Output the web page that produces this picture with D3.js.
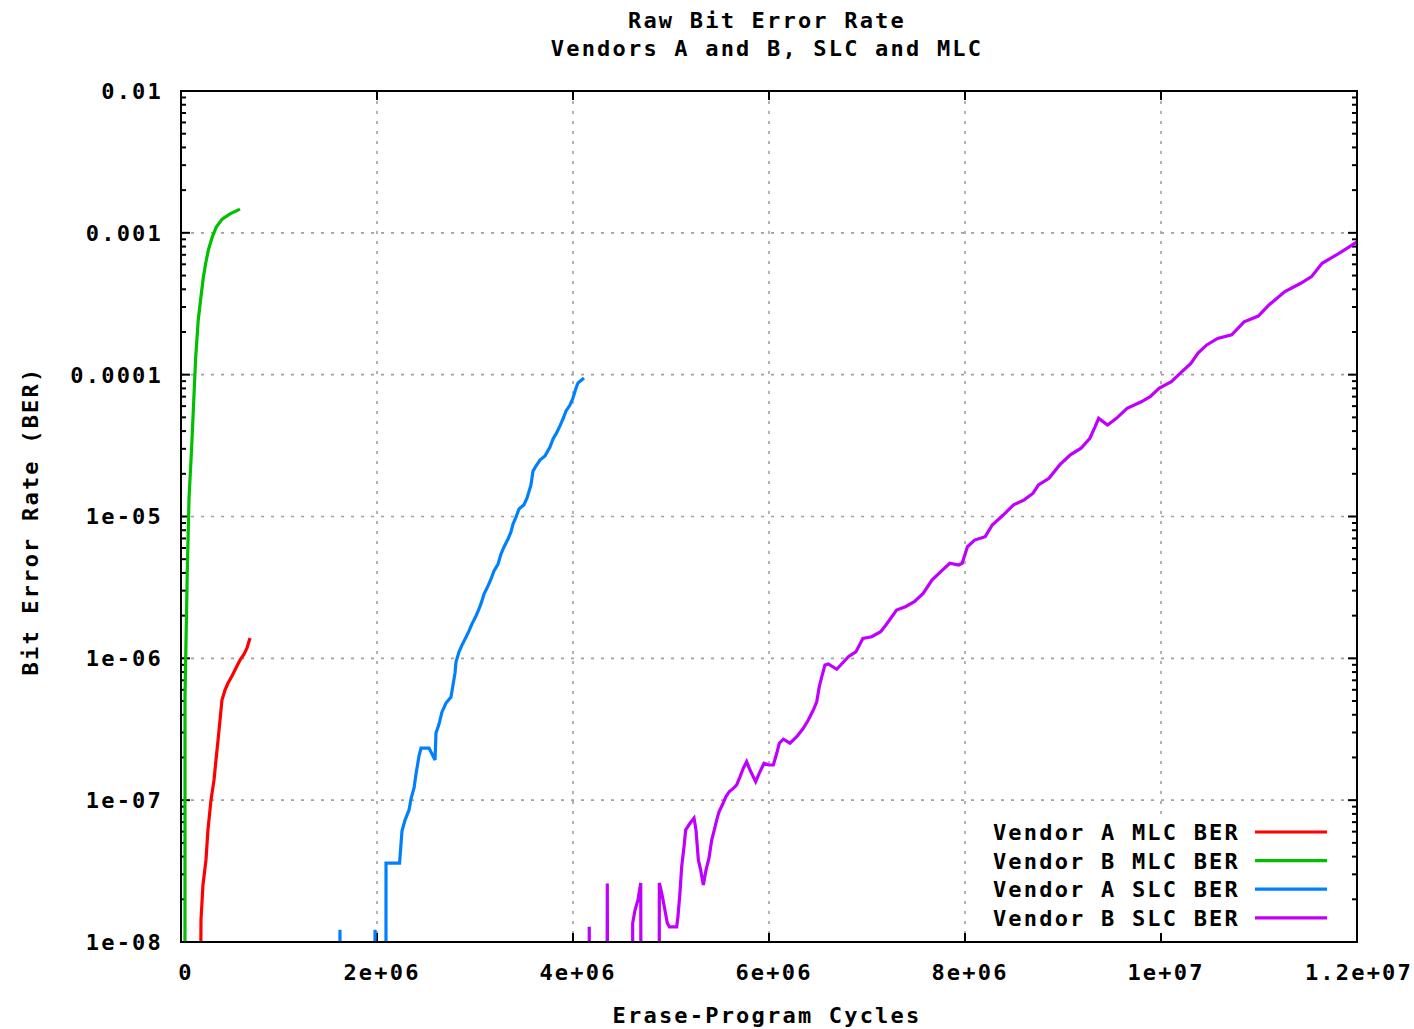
<!DOCTYPE html>
<html>
<head>
<meta charset="utf-8">
<script src="https://cdn.jsdelivr.net/npm/d3@7"></script>
<style>
  html, body { margin: 0; padding: 0; background: #fff; overflow: hidden; }
  text { font-family: "DejaVu Sans Mono", monospace; font-weight: bold; fill: #000; font-size: 22px; letter-spacing: 2.2px; }
</style>
</head>
<body>
<div id="chart"></div>
<script>
// values: [erase-program cycles, bit error rate]
// very small values stand for "no errors" and run off the bottom of the plot
const vendorAMlc = [
  [184000, 1e-10], [204000, 1.43e-8], [224000, 2.52e-8], [255000, 3.79e-8], [275000, 6.17e-8],
  [306000, 1.0e-7], [337000, 1.39e-7], [357000, 1.92e-7], [378000, 2.65e-7], [398000, 3.67e-7],
  [418000, 5.08e-7], [449000, 5.98e-7], [480000, 6.7e-7], [520000, 7.5e-7], [561000, 8.55e-7],
  [602000, 9.73e-7], [643000, 1.07e-6], [673000, 1.18e-6], [704000, 1.39e-6]
];

const vendorBMlc = [
  [40000, 1e-10], [41000, 5.5e-7], [64000, 4.06e-6], [82000, 1.35e-5], [109000, 3.1e-5],
  [125000, 5.5e-5], [150000, 1.33e-4], [176000, 2.43e-4], [205000, 3.6e-4], [227000, 4.8e-4],
  [252000, 6.1e-4], [280000, 7.6e-4], [318000, 9.3e-4], [360000, 1.1e-3], [420000, 1.25e-3],
  [500000, 1.36e-3], [602000, 1.47e-3]
];

const vendorASlc = [
  [1608000, 1e-12], [1622000, 1.22e-8], [1636000, 1e-12],
  [1966000, 1e-12], [1980000, 1.22e-8], [1994000, 1e-12],
  [2088000, 1e-12], [2092000, 3.6e-8], [2230000, 3.6e-8], [2255000, 6.05e-8], [2286000, 7.24e-8],
  [2327000, 8.53e-8], [2347000, 1.02e-7], [2378000, 1.22e-7], [2398000, 1.53e-7], [2429000, 2.05e-7],
  [2449000, 2.33e-7], [2531000, 2.33e-7], [2592000, 1.92e-7], [2602000, 2.97e-7], [2633000, 3.44e-7],
  [2663000, 4.19e-7], [2704000, 4.84e-7], [2755000, 5.33e-7], [2796000, 7.88e-7], [2806000, 9.42e-7],
  [2837000, 1.11e-6], [2867000, 1.24e-6], [2908000, 1.41e-6], [2939000, 1.56e-6], [2969000, 1.75e-6],
  [3010000, 1.99e-6], [3041000, 2.23e-6], [3071000, 2.54e-6], [3092000, 2.84e-6], [3133000, 3.24e-6],
  [3163000, 3.62e-6], [3194000, 4.13e-6], [3235000, 4.62e-6], [3265000, 5.44e-6], [3296000, 6.10e-6],
  [3337000, 6.93e-6], [3367000, 7.78e-6], [3388000, 8.85e-6], [3418000, 9.91e-6], [3449000, 1.13e-5],
  [3500000, 1.21e-5], [3531000, 1.35e-5], [3571000, 1.67e-5], [3592000, 2.09e-5], [3622000, 2.27e-5],
  [3663000, 2.50e-5], [3714000, 2.67e-5], [3765000, 3.09e-5], [3796000, 3.52e-5], [3827000, 3.82e-5],
  [3867000, 4.35e-5], [3898000, 4.87e-5], [3929000, 5.55e-5], [3969000, 6.11e-5], [4000000, 6.84e-5],
  [4031000, 8.05e-5], [4051000, 8.73e-5], [4112000, 9.47e-5]
];

const vendorBSlc = [
  [4152000, 1e-12], [4166000, 1.28e-8], [4180000, 1e-12],
  [4336000, 1e-12], [4350000, 2.59e-8], [4364000, 1e-12],
  [4600000, 1e-12], [4609000, 1.36e-8], [4633000, 1.68e-8], [4663000, 1.98e-8], [4691000, 2.61e-8],
  [4705000, 1e-12],
  [4875000, 1e-12], [4881000, 2.61e-8], [4905000, 2.21e-8], [4932000, 1.77e-8], [4962000, 1.36e-8],
  [4983000, 1.28e-8], [5058000, 1.28e-8], [5071000, 1.51e-8], [5092000, 2.26e-8], [5109000, 3.40e-8],
  [5133000, 4.70e-8], [5150000, 6.17e-8], [5194000, 6.87e-8], [5235000, 7.48e-8], [5255000, 6.17e-8],
  [5279000, 3.79e-8], [5303000, 3.21e-8], [5330000, 2.52e-8], [5357000, 3.21e-8], [5388000, 3.91e-8],
  [5415000, 5.24e-8], [5442000, 6.17e-8], [5466000, 7.24e-8], [5490000, 8.29e-8], [5523000, 9.24e-8],
  [5561000, 1.06e-7], [5595000, 1.15e-7], [5636000, 1.21e-7], [5670000, 1.28e-7], [5704000, 1.46e-7],
  [5738000, 1.68e-7], [5772000, 1.87e-7], [5806000, 1.63e-7], [5864000, 1.35e-7], [5901000, 1.55e-7],
  [5949000, 1.82e-7], [5997000, 1.77e-7], [6044000, 1.77e-7], [6079000, 2.14e-7], [6105000, 2.52e-7],
  [6146000, 2.69e-7], [6214000, 2.52e-7], [6283000, 2.80e-7], [6350000, 3.21e-7], [6401000, 3.67e-7],
  [6452000, 4.32e-7], [6487000, 4.94e-7], [6513000, 6.31e-7], [6538000, 7.41e-7], [6571000, 8.97e-7],
  [6605000, 9.12e-7], [6691000, 8.37e-7], [6813000, 1.03e-6], [6886000, 1.11e-6], [6958000, 1.38e-6],
  [7048000, 1.42e-6], [7139000, 1.54e-6], [7193000, 1.72e-6], [7302000, 2.19e-6], [7392000, 2.31e-6],
  [7483000, 2.51e-6], [7573000, 2.87e-6], [7663000, 3.56e-6], [7772000, 4.20e-6], [7845000, 4.68e-6],
  [7935000, 4.55e-6], [7971000, 4.68e-6], [8025000, 6.12e-6], [8098000, 6.82e-6], [8206000, 7.21e-6],
  [8278000, 8.71e-6], [8387000, 1.02e-5], [8496000, 1.21e-5], [8604000, 1.31e-5], [8695000, 1.46e-5],
  [8749000, 1.67e-5], [8857000, 1.86e-5], [8966000, 2.31e-5], [9075000, 2.72e-5], [9184000, 3.03e-5],
  [9274000, 3.56e-5], [9328000, 4.30e-5], [9364000, 4.92e-5], [9455000, 4.42e-5], [9545000, 4.92e-5],
  [9654000, 5.79e-5], [9799000, 6.44e-5], [9889000, 7.00e-5], [9980000, 8.02e-5], [10106000, 8.91e-5],
  [10214000, 1.05e-4], [10305000, 1.20e-4], [10378000, 1.42e-4], [10467000, 1.62e-4], [10577000, 1.80e-4],
  [10721000, 1.91e-4], [10848000, 2.36e-4], [10993000, 2.59e-4], [11101000, 3.10e-4], [11264000, 3.85e-4],
  [11426000, 4.41e-4], [11536000, 4.91e-4], [11644000, 6.10e-4], [11789000, 6.98e-4], [11897000, 7.78e-4],
  [12000000, 8.62e-4]
];

const seriesNames = ["Vendor A MLC BER", "Vendor B MLC BER", "Vendor A SLC BER", "Vendor B SLC BER"];
const seriesColors = ["#ff0000", "#00c000", "#0080ff", "#c000ff"];

const xTicks = [0, 2e6, 4e6, 6e6, 8e6, 1e7, 1.2e7];
const xTickLabels = ["0", "2e+06", "4e+06", "6e+06", "8e+06", "1e+07", "1.2e+07"];
const yTicks = [1e-8, 1e-7, 1e-6, 1e-5, 1e-4, 1e-3, 1e-2];
const yTickLabels = ["1e-08", "1e-07", "1e-06", "1e-05", "0.0001", "0.001", "0.01"];

const width = 1414, height = 1029;
const margin = { top: 91, right: 57, bottom: 87, left: 181 };
const innerW = width - margin.left - margin.right;
const innerH = height - margin.top - margin.bottom;

const svg = d3.select("#chart").append("svg")
  .attr("width", width)
  .attr("height", height);

const x = d3.scaleLinear().domain([0, 1.2e7]).range([0, innerW]);
const y = d3.scaleLog().domain([1e-8, 1e-2]).range([innerH, 0]);

const g = svg.append("g").attr("transform", `translate(${margin.left},${margin.top})`);

g.append("clipPath").attr("id", "plot-clip")
  .append("rect").attr("width", innerW).attr("height", innerH);

// grid (skip the borders)
g.selectAll(".vgrid").data(xTicks.slice(1, -1)).enter().append("line")
  .attr("x1", d => x(d)).attr("x2", d => x(d))
  .attr("y1", 0).attr("y2", innerH)
  .attr("stroke", "#a0a0a0").attr("stroke-width", 1.6).attr("stroke-dasharray", "3,7");

g.selectAll(".hgrid").data(yTicks.slice(1, -1)).enter().append("line")
  .attr("x1", 0).attr("x2", innerW)
  .attr("y1", d => y(d)).attr("y2", d => y(d))
  .attr("stroke", "#a0a0a0").attr("stroke-width", 1.6).attr("stroke-dasharray", "3,7");

// legend background hides the grid behind it
g.append("rect")
  .attr("x", 985 - margin.left).attr("y", 815 - margin.top)
  .attr("width", 355).attr("height", 122)
  .attr("fill", "#fff");

// ticks, pointing inward on all four sides
const minor = [];
for (let e = -8; e < -2; e++) for (let m = 2; m <= 9; m++) minor.push(m * Math.pow(10, e));

const ticks = g.append("g").attr("stroke", "#000").attr("stroke-width", 2);
xTicks.forEach(t => {
  ticks.append("line").attr("x1", x(t)).attr("x2", x(t)).attr("y1", innerH).attr("y2", innerH - 9);
  ticks.append("line").attr("x1", x(t)).attr("x2", x(t)).attr("y1", 0).attr("y2", 9);
});
yTicks.forEach(t => {
  ticks.append("line").attr("x1", 0).attr("x2", 9).attr("y1", y(t)).attr("y2", y(t));
  ticks.append("line").attr("x1", innerW).attr("x2", innerW - 9).attr("y1", y(t)).attr("y2", y(t));
});
minor.forEach(t => {
  ticks.append("line").attr("x1", 0).attr("x2", 5).attr("y1", y(t)).attr("y2", y(t));
  ticks.append("line").attr("x1", innerW).attr("x2", innerW - 5).attr("y1", y(t)).attr("y2", y(t));
});

// tick labels; the last one is pulled in so it stays on the page
g.selectAll(".xlab").data(xTicks).enter().append("text")
  .attr("x", (d, i) => i === xTicks.length - 1 ? width - margin.left - 1 : x(d) + 5)
  .attr("y", innerH + 30).attr("dy", "0.36em")
  .attr("text-anchor", (d, i) => i === xTicks.length - 1 ? "end" : "middle")
  .text((d, i) => xTickLabels[i]);

g.selectAll(".ylab").data(yTicks).enter().append("text")
  .attr("x", -18).attr("y", d => y(d)).attr("dy", "0.36em")
  .attr("text-anchor", "end")
  .text((d, i) => yTickLabels[i]);

// series
const line = d3.line().x(d => x(d[0])).y(d => y(d[1]));
const plot = g.append("g").attr("clip-path", "url(#plot-clip)");
[vendorAMlc, vendorBMlc, vendorASlc, vendorBSlc].forEach((s, i) => {
  plot.append("path")
    .datum(s)
    .attr("d", line)
    .attr("fill", "none")
    .attr("stroke", seriesColors[i])
    .attr("stroke-width", 3.2)
    .attr("stroke-linejoin", "miter");
});

// border
g.append("rect")
  .attr("width", innerW).attr("height", innerH)
  .attr("fill", "none").attr("stroke", "#000").attr("stroke-width", 2);

// legend
const legend = svg.append("g");
seriesNames.forEach((name, i) => {
  const ly = 832 + i * 28.6;
  legend.append("text")
    .attr("x", 1240).attr("y", ly).attr("dy", "0.36em")
    .attr("text-anchor", "end")
    .text(name);
  legend.append("line")
    .attr("x1", 1255).attr("x2", 1327).attr("y1", ly).attr("y2", ly)
    .attr("stroke", seriesColors[i]).attr("stroke-width", 3.2);
});

// titles
svg.append("text").attr("x", 767).attr("y", 20).attr("dy", "0.36em")
  .attr("text-anchor", "middle")
  .text("Raw Bit Error Rate");
svg.append("text").attr("x", 767).attr("y", 48).attr("dy", "0.36em")
  .attr("text-anchor", "middle")
  .text("Vendors A and B, SLC and MLC");

svg.append("text").attr("x", 767).attr("y", 1015).attr("dy", "0.36em")
  .attr("text-anchor", "middle")
  .text("Erase-Program Cycles");

svg.append("text")
  .attr("transform", "translate(30,521) rotate(-90)")
  .attr("dy", "0.36em")
  .attr("text-anchor", "middle")
  .text("Bit Error Rate (BER)");
</script>
</body>
</html>
